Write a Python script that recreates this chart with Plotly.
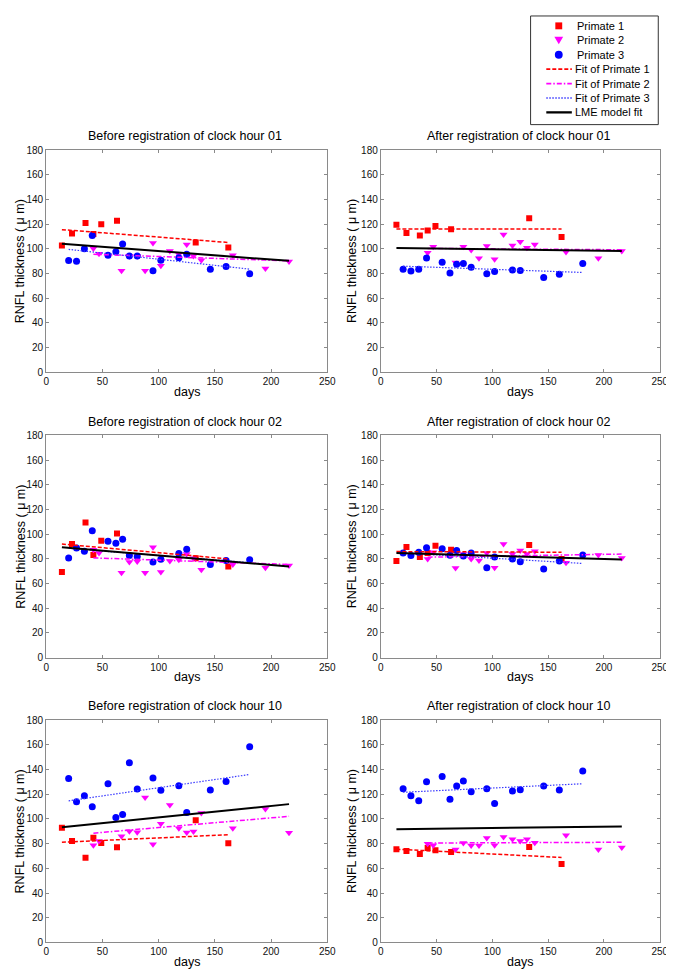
import plotly.graph_objects as go

W, H = 674, 972

# ---------------- data ----------------
red_days = [14, 23, 35, 42, 49, 63, 133, 162]
mag_days = [42, 47, 67, 74, 81, 88, 95, 102, 110, 118, 125, 131, 138, 166, 195, 216]
blue_days = [20, 27, 34, 41, 55, 62, 68, 74, 81, 95, 102, 118, 125, 146, 160, 181]

x_ticks = [0, 50, 100, 150, 200, 250]
y_ticks = [0, 20, 40, 60, 80, 100, 120, 140, 160, 180]

panel_titles = [
    "Before registration of clock hour 01",
    "After registration of clock hour 01",
    "Before registration of clock hour 02",
    "After registration of clock hour 02",
    "Before registration of clock hour 10",
    "After registration of clock hour 10",
]

series_names = ["Primate 1", "Primate 2", "Primate 3"]
fit_names = ["Fit of Primate 1", "Fit of Primate 2", "Fit of Primate 3", "LME model fit"]

# Before registration, clock hour 01
b01_red = [102.7, 112.3, 120.8, 112.0, 119.8, 122.7, 105.1, 101.1]
b01_mag = [100.3, 96.0, 82.2, 94.0, 94.0, 82.2, 104.6, 86.2, 98.2, 95.5, 103.5, 94.2, 90.7, 94.7, 84.0, 89.6]
b01_blue = [90.4, 89.9, 100.0, 110.7, 94.7, 97.6, 103.8, 94.2, 94.2, 82.2, 90.7, 92.8, 95.5, 83.5, 85.6, 79.8]
b01_fits = [[115.5, 105.1], [95.5, 90.2], [99.5, 83.5], [104.0, 90.2]]

# After registration, clock hour 01
a01_red = [119.5, 112.8, 110.7, 114.7, 118.4, 115.8, 124.8, 109.6]
a01_mag = [96.8, 101.6, 88.8, 101.6, 99.0, 92.3, 102.2, 91.5, 111.5, 102.7, 105.6, 100.8, 103.5, 97.4, 92.3, 98.2]
a01_blue = [83.5, 81.9, 83.5, 92.6, 89.1, 80.3, 87.5, 88.0, 85.1, 79.8, 81.6, 82.7, 82.4, 76.8, 79.3, 88.0]
a01_fits = [[116.0, 116.0], [100.3, 99.2], [85.9, 80.8], [100.6, 98.2]]

# Before registration, clock hour 02
b02_red = [69.4, 92.0, 109.4, 83.2, 94.7, 100.6, 80.6, 73.9]
b02_mag = [87.5, 84.8, 68.8, 77.4, 77.9, 68.8, 89.4, 69.4, 78.2, 79.2, 84.0, 80.6, 71.2, 75.5, 72.8, 74.7]
b02_blue = [80.8, 88.8, 86.2, 102.7, 94.2, 92.6, 96.0, 82.7, 81.9, 77.4, 79.8, 84.3, 87.8, 75.5, 78.7, 79.2]
b02_fits = [[92.0, 80.0], [80.8, 75.5], [88.5, 77.0], [89.4, 73.9]]

# After registration, clock hour 02
a02_red = [78.2, 89.6, 81.6, 84.8, 90.7, 87.5, 91.2, 80.0]
a02_mag = [80.0, 85.4, 72.6, 84.0, 80.0, 78.7, 84.8, 72.8, 92.0, 84.0, 86.7, 84.0, 86.2, 76.8, 83.2, 80.8]
a02_blue = [84.8, 82.7, 85.4, 89.1, 88.3, 83.0, 86.7, 82.4, 84.8, 72.8, 81.6, 80.0, 77.6, 71.8, 78.2, 83.2]
a02_fits = [[85.9, 85.4], [81.4, 83.9], [84.8, 76.3], [84.8, 79.5]]

# Before registration, clock hour 10
b10_red = [92.8, 82.1, 68.5, 84.8, 80.5, 77.1, 98.9, 80.3]
b10_mag = [78.7, 82.1, 85.9, 90.1, 89.3, 117.3, 79.5, 96.0, 111.2, 92.5, 89.1, 89.9, 104.8, 92.5, 108.0, 88.8]
b10_blue = [132.8, 113.9, 118.7, 109.9, 128.5, 101.1, 103.5, 145.6, 124.3, 133.1, 123.2, 126.9, 105.3, 123.5, 130.4, 158.4]
b10_fits = [[81.1, 87.2], [88.5, 102.1], [114.7, 136.0], [93.3, 112.0]]

# After registration, clock hour 10
a10_red = [75.5, 74.1, 71.5, 76.5, 74.7, 73.3, 77.3, 63.5]
a10_mag = [80.0, 78.7, 75.2, 80.5, 78.4, 78.4, 84.5, 78.7, 85.3, 83.5, 82.1, 83.5, 80.8, 86.7, 75.2, 76.8]
a10_blue = [124.5, 118.7, 114.7, 130.1, 134.4, 116.0, 126.7, 130.7, 122.1, 124.5, 112.5, 122.7, 123.7, 126.7, 123.5, 138.9]
a10_fits = [[75.5, 68.8], [80.5, 81.1], [121.6, 128.5], [91.7, 93.9]]

panels = [
    (b01_red, b01_mag, b01_blue, b01_fits),
    (a01_red, a01_mag, a01_blue, a01_fits),
    (b02_red, b02_mag, b02_blue, b02_fits),
    (a02_red, a02_mag, a02_blue, a02_fits),
    (b10_red, b10_mag, b10_blue, b10_fits),
    (a10_red, a10_mag, a10_blue, a10_fits),
]

# ---------------- styles / layout geometry (pixels) ----------------
FONT = "Liberation Sans, Arial, Helvetica, sans-serif"
RED, MAG, BLUE = "#ff0000", "#ff00ff", "#0000ff"
col_x = [(35.8, 322.0), (376.5, 660.5)]
ytitle_x = [9.3, 347.0]
row_top = [137.7, 426.7, 715.0]
AX_H = 225.0


def px(x):
    return x / W


def py(y):
    return 1 - y / H


all_days = red_days + mag_days + blue_days
day_sets = [red_days, mag_days, blue_days]
marker_styles = [
    dict(symbol="square", size=6, color=RED),
    dict(symbol="triangle-down", size=7, color=MAG),
    dict(symbol="circle", size=7, color=BLUE),
]
fit_styles = [
    dict(color=RED, width=1.5, dash="4px,2px"),
    dict(color=MAG, width=1.5, dash="5px,2px,1.5px,2px"),
    dict(color="#3a3aff", width=1.2, dash="1.5px,1.5px"),
    dict(color="#000000", width=2),
]

fig = go.Figure()
layout = dict(
    width=W, height=H,
    margin=dict(l=0, r=0, t=0, b=0),
    paper_bgcolor="white", plot_bgcolor="white",
    showlegend=False,
    font=dict(family=FONT, color="#000"),
)
annotations = []
shapes = []

for k, (r_vals, m_vals, b_vals, fits) in enumerate(panels):
    row, col = divmod(k, 2)
    idx = "" if k == 0 else str(k + 1)
    xa, ya = "x" + idx, "y" + idx
    x0, x1 = col_x[col]
    top = row_top[row]
    bot = top + AX_H

    for days, vals, ms, name in zip(day_sets, [r_vals, m_vals, b_vals], marker_styles, series_names):
        fig.add_trace(go.Scatter(
            x=days, y=vals, mode="markers", name=name,
            marker=dict(symbol=ms["symbol"], size=ms["size"], color=ms["color"], line=dict(width=0)),
            xaxis=xa, yaxis=ya, hoverinfo="x+y",
        ))
    for j, (fv, ls, name) in enumerate(zip(fits, fit_styles, fit_names)):
        days = all_days if j == 3 else day_sets[j]
        fig.add_trace(go.Scatter(
            x=[min(days), max(days)], y=fv, mode="lines", name=name,
            line=ls, xaxis=xa, yaxis=ya, hoverinfo="skip",
        ))

    axis_common = dict(
        showgrid=False, zeroline=False, showline=True, linecolor="#8a8a8a", linewidth=1,
        mirror="ticks", ticks="inside", ticklen=3, tickcolor="#8a8a8a", tickwidth=1,
        tickfont=dict(family=FONT, size=10, color="#111"),
    )
    layout["xaxis" + idx] = dict(
        axis_common, domain=[px(x0), px(x1)], anchor=ya,
        range=[0, 250], tickvals=x_ticks,
    )
    layout["yaxis" + idx] = dict(
        axis_common, domain=[py(bot), py(top)], anchor=xa,
        range=[0, 180], tickvals=y_ticks,
    )
    cx = (x0 + x1) / 2
    annotations.append(dict(
        text=panel_titles[k], xref="paper", yref="paper",
        x=px(cx - 2), y=py(top - 14), xanchor="center", yanchor="middle",
        showarrow=False, font=dict(family=FONT, size=12.5, color="#000"),
    ))
    annotations.append(dict(
        text="days", xref="paper", yref="paper",
        x=px(cx), y=py(bot + 20), xanchor="center", yanchor="middle",
        showarrow=False, font=dict(family=FONT, size=12.5, color="#000"),
    ))
    annotations.append(dict(
        text="RNFL thickness ( \u03bc m)", xref="paper", yref="paper",
        x=px(ytitle_x[col]), y=py((top + bot) / 2), xanchor="center", yanchor="middle",
        textangle=-90, showarrow=False, font=dict(family=FONT, size=12.5, color="#000"),
    ))

# ---------------- legend box (drawn as layout decoration) ----------------
LB = dict(x0=529, x1=659, y0=2, y1=112)
shapes.append(dict(type="rect", xref="paper", yref="paper",
                   x0=px(LB["x0"]), x1=px(LB["x1"]), y0=py(LB["y1"]), y1=py(LB["y0"]),
                   line=dict(color="#333", width=1), fillcolor="white", layer="above"))
rows_c = [12 + 14.6 * i for i in range(7)]
sym_cx = 557.7
s = 3.5
shapes.append(dict(type="rect", xref="paper", yref="paper",
                   x0=px(sym_cx - s), x1=px(sym_cx + s), y0=py(rows_c[0] + s), y1=py(rows_c[0] - s),
                   line=dict(width=0), fillcolor=RED, layer="above"))
tx, ty = sym_cx, rows_c[1]
shapes.append(dict(type="path", xref="paper", yref="paper",
                   path=f"M {px(tx-4.5)},{py(ty-3.5)} L {px(tx+4.5)},{py(ty-3.5)} L {px(tx)},{py(ty+4)} Z",
                   line=dict(width=0), fillcolor=MAG, layer="above"))
shapes.append(dict(type="circle", xref="paper", yref="paper",
                   x0=px(sym_cx - 4), x1=px(sym_cx + 4), y0=py(rows_c[2] + 4), y1=py(rows_c[2] - 4),
                   line=dict(width=0), fillcolor=BLUE, layer="above"))
for j, ls in enumerate(fit_styles):
    yy = rows_c[3 + j]
    shapes.append(dict(type="line", xref="paper", yref="paper",
                       x0=px(545), x1=px(571), y0=py(yy), y1=py(yy),
                       line=dict(color=ls["color"], width=ls["width"] + (0.3 if j == 3 else 0.2),
                                 dash=ls.get("dash", "solid")),
                       layer="above"))
for i, name in enumerate(series_names + fit_names):
    annotations.append(dict(
        text=name, xref="paper", yref="paper",
        x=px(574 if i < 3 else 572), y=py(rows_c[i]), xanchor="left", yanchor="middle",
        showarrow=False, font=dict(family=FONT, size=11, color="#000"),
    ))

layout["annotations"] = annotations
layout["shapes"] = shapes
fig.update_layout(**layout)
fig.write_html("out.html")
